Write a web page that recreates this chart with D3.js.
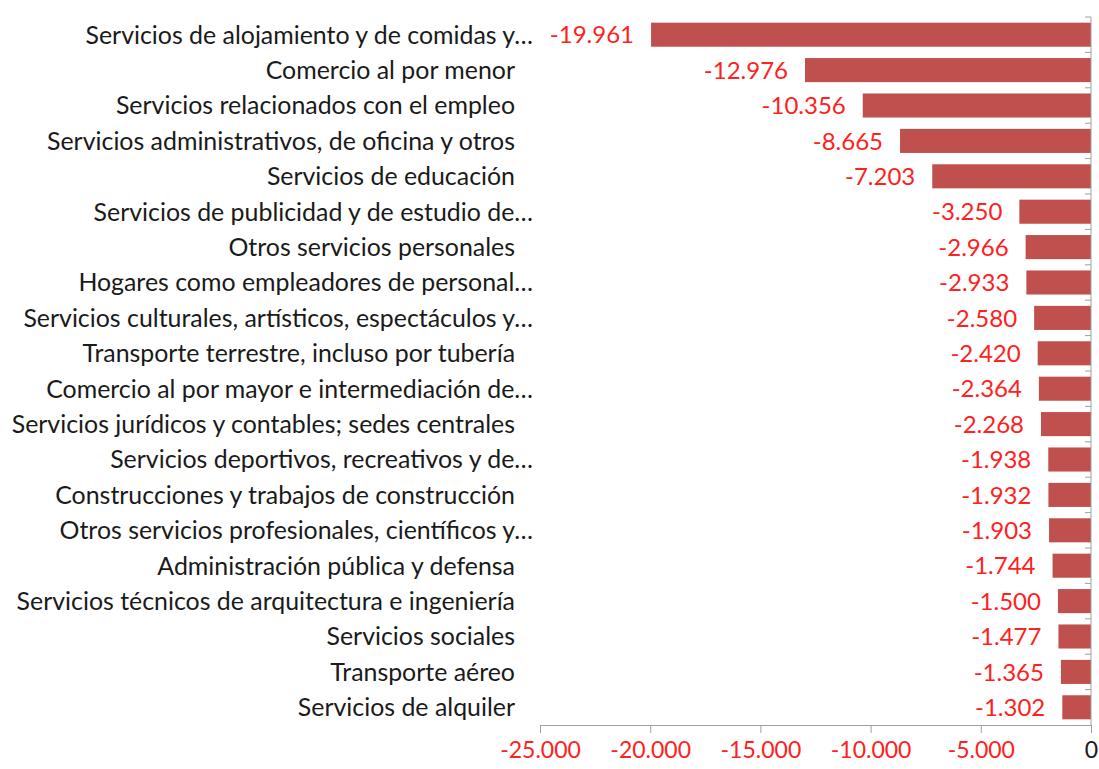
<!DOCTYPE html>
<html>
<head>
<meta charset="utf-8">
<script src="https://cdn.jsdelivr.net/npm/d3@7"></script>
<style>
  body { margin: 0; background: #fff; }
  text { font-family: Lato, "Open Sans", sans-serif; }
</style>
</head>
<body>
<script>
// categories as shown on the chart (truncated ones keep their ellipsis)
var categories = [
  "Servicios de alojamiento y de comidas y…",
  "Comercio al por menor",
  "Servicios relacionados con el empleo",
  "Servicios administrativos, de oficina y otros",
  "Servicios de educación",
  "Servicios de publicidad y de estudio de…",
  "Otros servicios personales",
  "Hogares como empleadores de personal…",
  "Servicios culturales, artísticos, espectáculos y…",
  "Transporte terrestre, incluso por tubería",
  "Comercio al por mayor e intermediación de…",
  "Servicios jurídicos y contables; sedes centrales",
  "Servicios deportivos, recreativos y de…",
  "Construcciones y trabajos de construcción",
  "Otros servicios profesionales, científicos y…",
  "Administración pública y defensa",
  "Servicios técnicos de arquitectura e ingeniería",
  "Servicios sociales",
  "Transporte aéreo",
  "Servicios de alquiler"
];

var values = [
  -19961, -12976, -10356, -8665, -7203, -3250, -2966, -2933, -2580, -2420,
  -2364, -2268, -1938, -1932, -1903, -1744, -1500, -1477, -1365, -1302
];

var xTicks = [-25000, -20000, -15000, -10000, -5000, 0];

var width = 1099, height = 769;
var margin = {top: 17, right: 8, bottom: 44, left: 540};

var locale = d3.formatLocale({decimal: ",", thousands: ".", grouping: [3], currency: ["", ""], minus: "-"});
var fmt = locale.format(",d");

var svg = d3.select("body").append("svg")
  .attr("width", width)
  .attr("height", height);

var x = d3.scaleLinear()
  .domain([-25000, 0])
  .range([margin.left, width - margin.right]);

var y = d3.scaleBand()
  .domain(categories)
  .range([margin.top, height - margin.bottom])
  .paddingInner(0.32)
  .paddingOuter(0.16);

var rows = categories.map(function(c, i) { return {name: c, value: values[i]}; });

// bars
svg.append("g").selectAll("rect")
  .data(rows)
  .enter()
  .append("rect")
    .attr("x", function(d) { return x(d.value); })
    .attr("y", function(d) { return y(d.name); })
    .attr("width", function(d) { return x(0) - x(d.value); })
    .attr("height", y.bandwidth())
    .attr("fill", "#C0504D");

// value labels
svg.append("g").selectAll("text")
  .data(rows)
  .enter()
  .append("text")
    .attr("x", function(d) { return x(d.value) - 17; })
    .attr("y", function(d) { return y(d.name) + y.bandwidth() / 2; })
    .attr("dy", "0.36em")
    .attr("text-anchor", "end")
    .attr("font-size", 24)
    .attr("fill", "#FF2020")
    .text(function(d) { return fmt(d.value); });

// category labels
svg.append("g").selectAll("text")
  .data(rows)
  .enter()
  .append("text")
    .attr("x", function(d) { return d.name.slice(-1) === "…" ? margin.left - 7 : margin.left - 25; })
    .attr("y", function(d) { return y(d.name) + y.bandwidth() / 2; })
    .attr("dy", "0.36em")
    .attr("text-anchor", "end")
    .attr("font-size", 24.9)
    .attr("fill", "#1a1a1a")
    .text(function(d) { return d.name; });

// bottom axis
var xAxis = svg.append("g")
  .attr("transform", "translate(0," + (height - margin.bottom) + ")")
  .call(d3.axisBottom(x).tickValues(xTicks).tickSize(8).tickSizeOuter(0).tickFormat(fmt));

xAxis.select(".domain").attr("stroke", "#A0A0A0");
xAxis.selectAll(".tick line").attr("stroke", "#A0A0A0");
xAxis.selectAll(".tick text")
  .attr("font-family", "Lato, 'Open Sans', sans-serif")
  .attr("font-size", 23)
  .attr("dy", "0.95em")
  .attr("fill", function(d) { return d < 0 ? "#FF2020" : "#1a1a1a"; });

// zero line with category ticks
var yAxis = svg.append("g")
  .attr("transform", "translate(" + x(0) + ",0)");

yAxis.append("line")
  .attr("y1", margin.top)
  .attr("y2", height - margin.bottom)
  .attr("stroke", "#A0A0A0");

var step = y.step();
yAxis.selectAll("line.tk")
  .data(d3.range(categories.length))
  .enter()
  .append("line")
    .attr("class", "tk")
    .attr("x1", -6)
    .attr("x2", 0)
    .attr("y1", function(i) { return margin.top + i * step; })
    .attr("y2", function(i) { return margin.top + i * step; })
    .attr("stroke", "#A0A0A0");
</script>
</body>
</html>
